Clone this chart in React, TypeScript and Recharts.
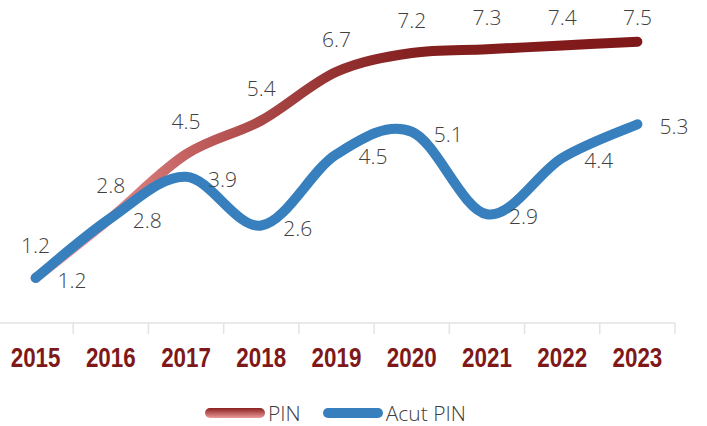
import React from 'react';
import { LineChart, Line, XAxis, YAxis, LabelList } from 'recharts';

const years = ['2015', '2016', '2017', '2018', '2019', '2020', '2021', '2022', '2023'];
const pin = [1.2, 2.8, 4.5, 5.4, 6.7, 7.2, 7.3, 7.4, 7.5];
const acutPin = [1.2, 2.8, 3.9, 2.6, 4.5, 5.1, 2.9, 4.4, 5.3];

const data = years.map((year, i) => ({ year, pin: pin[i], acut: acutPin[i] }));

const BLUE = '#377fbd';
const DARK_RED = '#7f1818';
const LABEL_FONT = '"Open Sans", "Noto Sans", sans-serif';
const HALF_BAND = 37.6;

// Excel-style smoothing (Catmull-Rom through every point)
const smoothCurve = (context: any) => {
    let pts: number[][] = [];
    return {
        areaStart() {},
        areaEnd() {},
        lineStart() {
            pts = [];
        },
        point(x: number, y: number) {
            pts.push([+x, +y]);
        },
        lineEnd() {
            if (!pts.length) return;
            context.moveTo(pts[0][0], pts[0][1]);
            for (let i = 0; i < pts.length - 1; i++) {
                const p0 = pts[Math.max(i - 1, 0)];
                const p1 = pts[i];
                const p2 = pts[i + 1];
                const p3 = pts[Math.min(i + 2, pts.length - 1)];
                context.bezierCurveTo(
                    p1[0] + (p2[0] - p0[0]) / 6,
                    p1[1] + (p2[1] - p0[1]) / 6,
                    p2[0] - (p3[0] - p1[0]) / 6,
                    p2[1] - (p3[1] - p1[1]) / 6,
                    p2[0],
                    p2[1],
                );
            }
        },
    };
};

const PinLabel = (props: any) => {
    const { x, y, value } = props;
    return (
        <text
            x={x}
            y={Math.max(y - 25, 25)}
            textAnchor="middle"
            fontSize={21}
            fontWeight={300}
            fontFamily={LABEL_FONT}
            fill="#404040"
        >
            {value}
        </text>
    );
};

const AcutLabel = (props: any) => {
    const { x, y, value } = props;
    return (
        <text
            x={x + 22}
            y={y + 10}
            textAnchor="start"
            fontSize={21}
            fontWeight={300}
            fontFamily={LABEL_FONT}
            fill="#404040"
        >
            {value}
        </text>
    );
};

const YearTick = (props: any) => {
    const { x, y, payload } = props;
    return (
        <g>
            <line x1={x + HALF_BAND} y1={y - 8} x2={x + HALF_BAND} y2={y + 3} stroke="#e3e3e3" strokeWidth={1.5} />
            <text
                transform={`translate(${x},${y + 36}) scale(0.8,1)`}
                textAnchor="middle"
                fontSize={28}
                fontWeight="bold"
                fontFamily='"Liberation Sans", Arial, sans-serif'
                fill={DARK_RED}
            >
                {payload.value}
            </text>
        </g>
    );
};

const LegendItem = ({ label, swatch }: { label: string; swatch: React.ReactNode }) => (
    <div style={{ display: 'flex', alignItems: 'center' }}>
        <svg width={60} height={12}>{swatch}</svg>
        <span style={{ marginLeft: 3, fontSize: 21, fontWeight: 300, color: '#404040', fontFamily: LABEL_FONT }}>
            {label}
        </span>
    </div>
);

export default function App() {
    return (
        <div style={{ position: 'absolute', left: 0, top: 0, width: 707, height: 426, background: '#fff' }}>
            <LineChart width={707} height={426} data={data} margin={{ top: 23, right: 32, left: -2, bottom: 0 }}>
                <defs>
                    <linearGradient id="pinGrad" x1="0" y1="0" x2="1" y2="0">
                        <stop offset="0" stopColor="#f3a9a9" />
                        <stop offset="0.13" stopColor="#df8585" />
                        <stop offset="0.25" stopColor="#c46262" />
                        <stop offset="0.38" stopColor="#a94646" />
                        <stop offset="0.5" stopColor="#943131" />
                        <stop offset="0.63" stopColor="#852020" />
                        <stop offset="1" stopColor={DARK_RED} />
                    </linearGradient>
                </defs>
                <XAxis
                    dataKey="year"
                    height={103}
                    padding={{ left: HALF_BAND, right: HALF_BAND }}
                    axisLine={{ stroke: '#e3e3e3', strokeWidth: 1.5 }}
                    tickLine={false}
                    tick={<YearTick />}
                    interval={0}
                />
                <YAxis hide domain={[0, 8]} />
                <Line
                    dataKey="pin"
                    name="PIN"
                    type={smoothCurve as any}
                    stroke="url(#pinGrad)"
                    strokeWidth={10}
                    strokeLinecap="round"
                    dot={false}
                    activeDot={false}
                    isAnimationActive={false}
                >
                    <LabelList dataKey="pin" content={<PinLabel />} />
                </Line>
                <Line
                    dataKey="acut"
                    name="Acut PIN"
                    type={smoothCurve as any}
                    stroke={BLUE}
                    strokeWidth={10}
                    strokeLinecap="round"
                    dot={false}
                    activeDot={false}
                    isAnimationActive={false}
                >
                    <LabelList dataKey="acut" content={<AcutLabel />} />
                </Line>
            </LineChart>
            <div
                style={{
                    position: 'absolute',
                    left: 205,
                    top: 399,
                    display: 'flex',
                    gap: 22,
                    alignItems: 'center',
                }}
            >
                <LegendItem
                    label="PIN"
                    swatch={
                        <>
                            <defs>
                                <linearGradient id="pinLegend" x1="0" y1="0" x2="0" y2="1">
                                    <stop offset="0" stopColor="#8a1f1f" />
                                    <stop offset="1" stopColor="#ec9a9a" />
                                </linearGradient>
                            </defs>
                            <rect x={0} y={1} width={60} height={10} rx={5} fill="url(#pinLegend)" />
                        </>
                    }
                />
                <LegendItem label="Acut PIN" swatch={<rect x={0} y={1} width={60} height={10} rx={5} fill={BLUE} />} />
            </div>
        </div>
    );
}
